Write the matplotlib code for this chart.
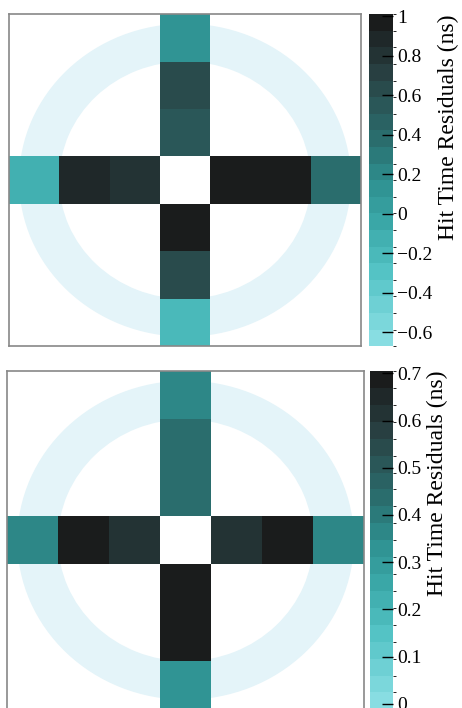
import numpy as np
import matplotlib
matplotlib.use('Agg')
import matplotlib.pyplot as plt
from matplotlib.colors import LinearSegmentedColormap, BoundaryNorm
from matplotlib.patches import Annulus

plt.rcParams['font.family'] = ['Liberation Serif', 'DejaVu Serif']

# PMT hit time residuals along the cross (7 cells each, centre empty)
top_vertical = [0.15, 0.60, 0.55, np.nan, 0.95, 0.60, -0.22]     # top -> bottom
top_horizontal = [-0.15, 0.85, 0.80, np.nan, 0.97, 0.97, 0.42]   # left -> right
bot_vertical = [0.37, 0.45, 0.45, np.nan, 0.68, 0.68, 0.34]
bot_horizontal = [0.37, 0.68, 0.60, np.nan, 0.60, 0.68, 0.37]

top_range = (-0.67, 1.01)
bot_range = (-0.012, 0.705)
top_ticks = [-0.6, -0.4, -0.2, 0, 0.2, 0.4, 0.6, 0.8, 1]
top_ticklabels = ['\u22120.6', '\u22120.4', '\u22120.2', '0', '0.2', '0.4', '0.6', '0.8', '1']
bot_ticks = [0, 0.1, 0.2, 0.3, 0.4, 0.5, 0.6, 0.7]
bot_ticklabels = ['0', '0.1', '0.2', '0.3', '0.4', '0.5', '0.6', '0.7']

cmap = LinearSegmentedColormap.from_list('teal', [
    (0.00, '#88dde2'), (0.20, '#55c4c6'), (0.36, '#3aa8a8'),
    (0.48, '#2f9292'), (0.60, '#2a7474'), (0.72, '#2a5a5b'),
    (0.84, '#283f41'), (1.00, '#1a1c1c')])


def make_grid(vertical, horizontal):
    grid = np.full((7, 7), np.nan)
    grid[:, 3] = vertical
    grid[3, :] = horizontal
    return grid


def draw_panel(ax, cax, grid, vrange, ticks, ticklabels):
    levels = np.linspace(vrange[0], vrange[1], 21)
    norm = BoundaryNorm(levels, cmap.N)
    ring = Annulus((3.5, 3.5), 3.3, 0.8, color='#e4f4f9', lw=0, zorder=0)
    ax.add_patch(ring)
    edges = np.arange(8)
    mesh = ax.pcolormesh(edges, edges, np.ma.masked_invalid(grid), cmap=cmap,
                         norm=norm, zorder=1)
    ax.set_xlim(0, 7)
    ax.set_ylim(7, 0)
    ax.set_aspect('auto')
    ax.set_xticks([])
    ax.set_yticks([])
    for s in ax.spines.values():
        s.set_color('#888888')
        s.set_linewidth(1.2)
    cb = plt.colorbar(mesh, cax=cax, ticks=ticks)
    cb.outline.set_visible(False)
    cb.ax.set_yticklabels(ticklabels)
    cb.ax.tick_params(direction='in', length=8, width=1, labelsize=14, pad=3)
    cb.set_label('Hit Time Residuals (ns)', fontsize=17, labelpad=4, loc='top')


fig = plt.figure(figsize=(4.62, 7.08), dpi=100)
ax1 = fig.add_axes([0.0195, 0.511, 0.762, 0.469])
cax1 = fig.add_axes([0.799, 0.511, 0.052, 0.469])
ax2 = fig.add_axes([0.0152, -0.002, 0.773, 0.478])
cax2 = fig.add_axes([0.801, -0.002, 0.050, 0.478])

draw_panel(ax1, cax1, make_grid(top_vertical, top_horizontal), top_range,
           top_ticks, top_ticklabels)
draw_panel(ax2, cax2, make_grid(bot_vertical, bot_horizontal), bot_range,
           bot_ticks, bot_ticklabels)

plt.savefig('out.png', dpi=100)
